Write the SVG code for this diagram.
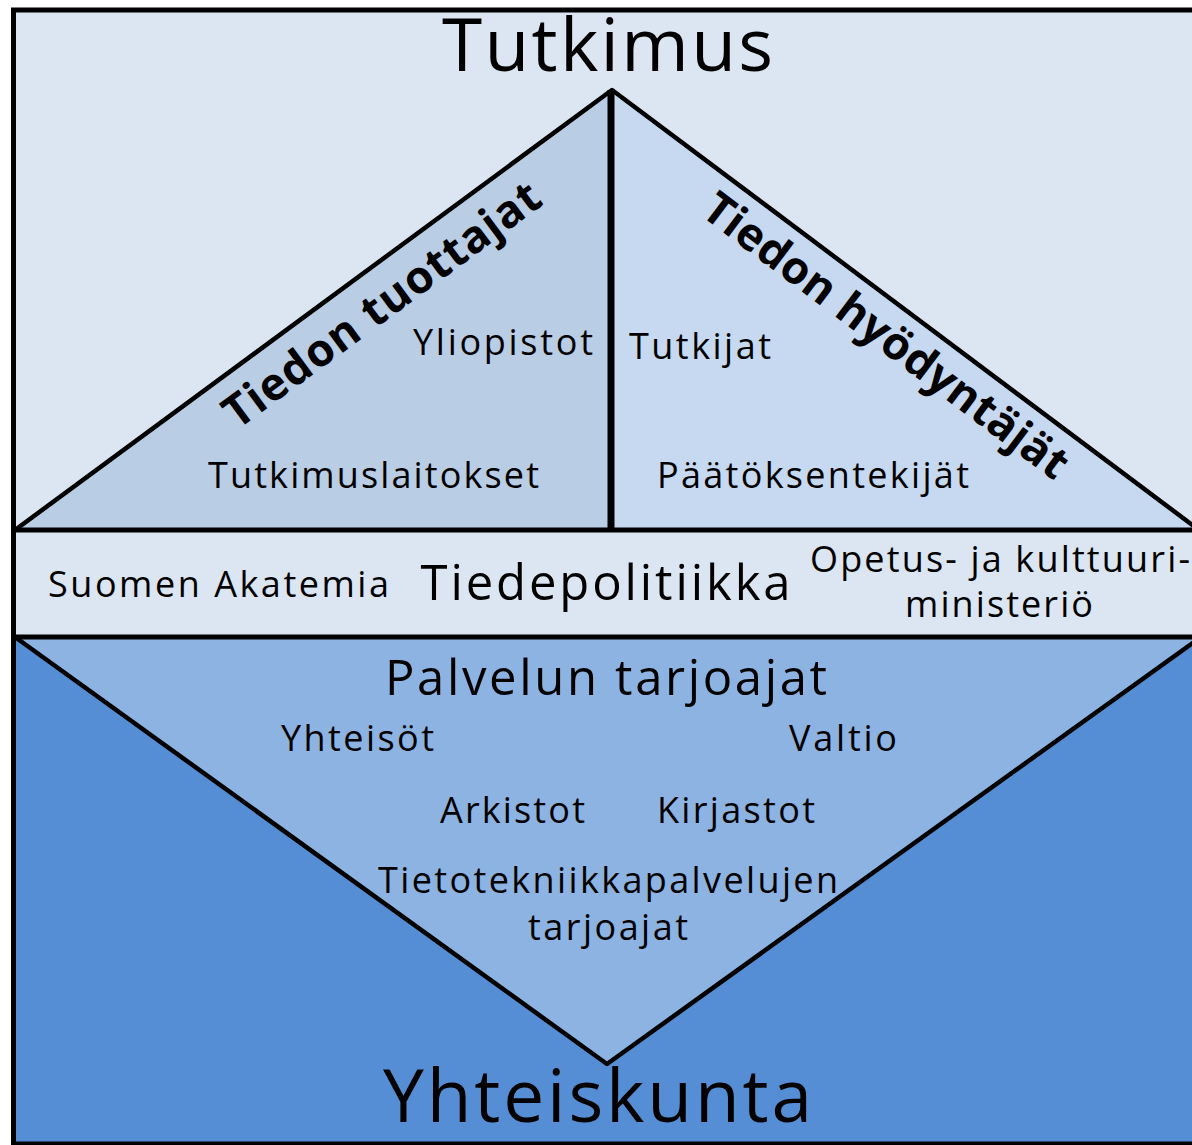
<svg xmlns="http://www.w3.org/2000/svg" width="1192" height="1145" viewBox="0 0 1192 1145">
  <style>
    .t { font-family: "Open Sans", "Liberation Sans", sans-serif; fill: #000; text-anchor: middle; }
    .lbl { font-size: 36px; }
    .big { font-size: 73px; }
    .mid { font-size: 49px; }
    .bold { font-size: 45px; font-weight: bold; }
    .ln { stroke: #000; stroke-width: 4.5; fill: none; stroke-linejoin: round; }
  </style>
  <rect x="0" y="0" width="1192" height="1145" fill="#ffffff"/>
  <g id="research-area">
    <rect x="13" y="10" width="1200" height="520" fill="#dce6f2"/>
  </g>
  <g id="producers-triangle">
    <polygon points="612,90 611,530 15,530" fill="#b9cde5"/>
  </g>
  <g id="users-triangle">
    <polygon points="612,90 1199,530 611,530" fill="#c6d9f1"/>
  </g>
  <g id="policy-band">
    <rect x="13" y="530" width="1200" height="107" fill="#dce6f2"/>
  </g>
  <g id="society-area">
    <rect x="13" y="637" width="1200" height="508" fill="#558ed5"/>
  </g>
  <g id="service-triangle">
    <polygon points="15,637 1201,637 607,1064" fill="#8db3e2"/>
  </g>
  <g id="connectors">
    <polyline class="ln" points="15,530 612,90 1199,530"/>
    <line x1="611" y1="90" x2="611" y2="530" stroke="#000" stroke-width="7"/>
    <line x1="13" y1="530" x2="1192" y2="530" stroke="#000" stroke-width="5"/>
    <line x1="13" y1="637" x2="1192" y2="637" stroke="#000" stroke-width="5"/>
    <polyline class="ln" points="15,637 607,1064 1201,637"/>
    <rect x="13.5" y="10" width="1200" height="1134" fill="none" stroke="#000" stroke-width="5"/>
  </g>
  <g id="title-tutkimus">
    <text class="t big" x="607.5" y="71" textLength="331" lengthAdjust="spacing">Tutkimus</text>
  </g>
  <g id="label-producers">
    <text class="t bold" transform="translate(391,317) rotate(-36.4)" x="0" y="0" textLength="382" lengthAdjust="spacing">Tiedon tuottajat</text>
    <text class="t lbl" x="503" y="355" textLength="180" lengthAdjust="spacing">Yliopistot</text>
    <text class="t lbl" x="373.5" y="488" textLength="331" lengthAdjust="spacing">Tutkimuslaitokset</text>
  </g>
  <g id="label-users">
    <text class="t bold" transform="translate(877,348) rotate(36.9)" x="0" y="0" textLength="444" lengthAdjust="spacing">Tiedon hyödyntäjät</text>
    <text class="t lbl" x="700" y="359" textLength="142" lengthAdjust="spacing">Tutkijat</text>
    <text class="t lbl" x="813" y="488" textLength="312" lengthAdjust="spacing">Päätöksentekijät</text>
  </g>
  <g id="label-policy">
    <text class="t lbl" x="218.5" y="597" textLength="341" lengthAdjust="spacing">Suomen Akatemia</text>
    <text class="t mid" x="605.5" y="600" textLength="370" lengthAdjust="spacing">Tiedepolitiikka</text>
    <text class="t lbl" x="1000" y="572" textLength="380" lengthAdjust="spacing">Opetus- ja kulttuuri-</text>
    <text class="t lbl" x="999" y="617" textLength="188" lengthAdjust="spacing">ministeriö</text>
  </g>
  <g id="label-services">
    <text class="t mid" x="606" y="695" textLength="442" lengthAdjust="spacing">Palvelun tarjoajat</text>
    <text class="t lbl" x="357.5" y="751" textLength="153" lengthAdjust="spacing">Yhteisöt</text>
    <text class="t lbl" x="843" y="751" textLength="108" lengthAdjust="spacing">Valtio</text>
    <text class="t lbl" x="512.5" y="823" textLength="145" lengthAdjust="spacing">Arkistot</text>
    <text class="t lbl" x="736" y="823" textLength="158" lengthAdjust="spacing">Kirjastot</text>
    <text class="t lbl" x="608" y="893" textLength="460" lengthAdjust="spacing">Tietotekniikkapalvelujen</text>
    <text class="t lbl" x="608" y="940" textLength="160" lengthAdjust="spacing">tarjoajat</text>
  </g>
  <g id="title-yhteiskunta">
    <text class="t big" x="597.5" y="1122" font-size="72" textLength="429" lengthAdjust="spacing">Yhteiskunta</text>
  </g>
</svg>
